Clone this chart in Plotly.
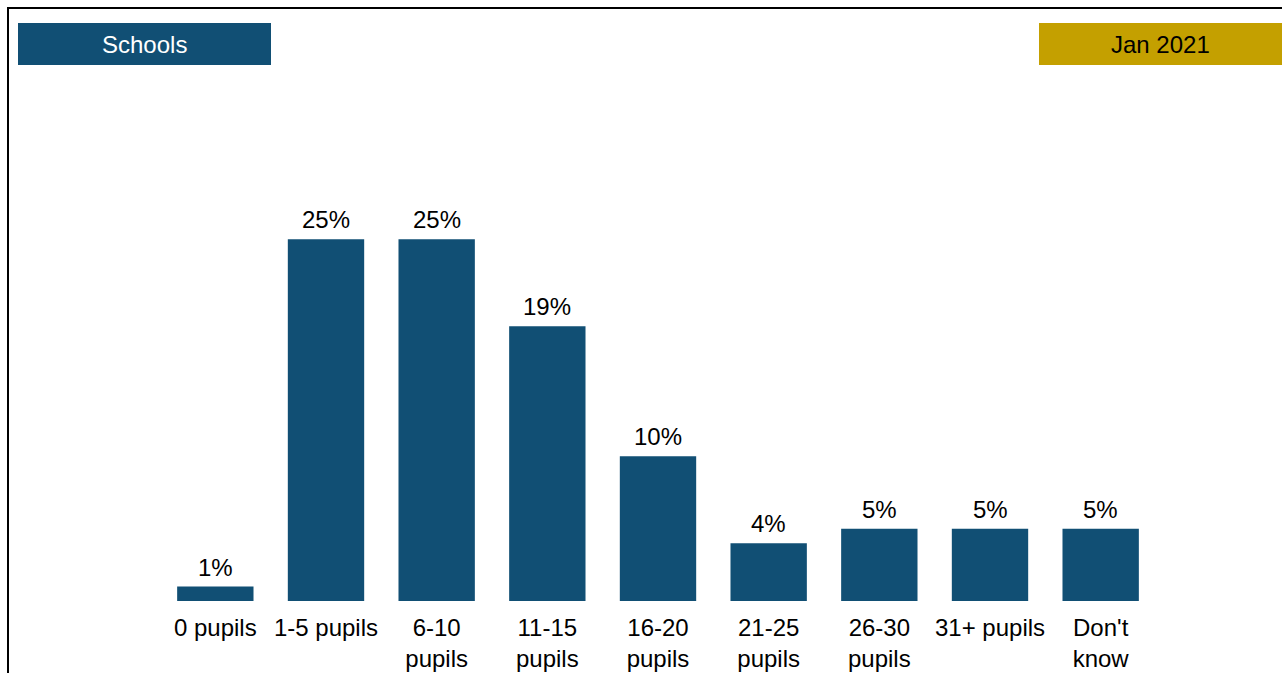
import plotly.graph_objects as go

categories = ["0 pupils", "1-5 pupils", "6-10<br>pupils", "11-15<br>pupils", "16-20<br>pupils",
              "21-25<br>pupils", "26-30<br>pupils", "31+ pupils", "Don't<br>know"]
values = [1, 25, 25, 19, 10, 4, 5, 5, 5]
labels = [f"{v}%" for v in values]

BAR = "#114F74"
GOLD = "#C4A000"
FONT = "Liberation Sans, Arial, sans-serif"

W, H = 1282, 673
ML, MR, MT, MB = 160, 126, 167, 72
PW = W - ML - MR
PH = H - MT - MB


def px(x):
    return (x - ML) / PW


def py(y):
    return (H - MB - y) / PH


xs = list(range(len(categories)))

fig = go.Figure()
fig.add_trace(go.Bar(
    x=xs, y=values, marker=dict(color=BAR, line=dict(width=0)), width=0.69,
))

annotations = [
    dict(text=t, x=x, y=v, xref="x", yref="y", showarrow=False, xanchor="center", yanchor="bottom",
         yshift=4, font=dict(size=24, color="black", family=FONT))
    for x, v, t in zip(xs, values, labels)
]
annotations += [
    dict(text="Schools", xref="paper", yref="paper", x=px(144), y=py(44), showarrow=False,
         font=dict(size=24, color="white", family=FONT), xanchor="center", yanchor="middle"),
    dict(text="Jan 2021", xref="paper", yref="paper", x=px(1160), y=py(44), showarrow=False,
         font=dict(size=24, color="black", family=FONT), xanchor="center", yanchor="middle"),
]

fig.update_layout(
    width=W, height=H, margin=dict(l=ML, r=MR, t=MT, b=MB, autoexpand=False),
    paper_bgcolor="white", plot_bgcolor="white", showlegend=False,
    font=dict(family=FONT, size=24, color="black"),
    xaxis=dict(tickmode="array", tickvals=xs, ticktext=categories,
               range=[-0.5, len(categories) - 0.5], showgrid=False, zeroline=False,
               showline=False, ticks="", tickfont=dict(size=24, color="black"), tickangle=0,
               ticklabelstandoff=10, automargin=False),
    yaxis=dict(range=[0, 30], visible=False, automargin=False),
    shapes=[
        dict(type="rect", xref="paper", yref="paper", x0=px(8), x1=px(1290), y0=py(8), y1=py(690),
             line=dict(color="black", width=2), fillcolor="rgba(0,0,0,0)", layer="above"),
        dict(type="rect", xref="paper", yref="paper", x0=px(18), x1=px(271), y0=py(23), y1=py(65),
             line=dict(width=0), fillcolor=BAR),
        dict(type="rect", xref="paper", yref="paper", x0=px(1039), x1=px(1290), y0=py(23), y1=py(65),
             line=dict(width=0), fillcolor=GOLD),
    ],
    annotations=annotations,
)

fig.write_html("out.html")
